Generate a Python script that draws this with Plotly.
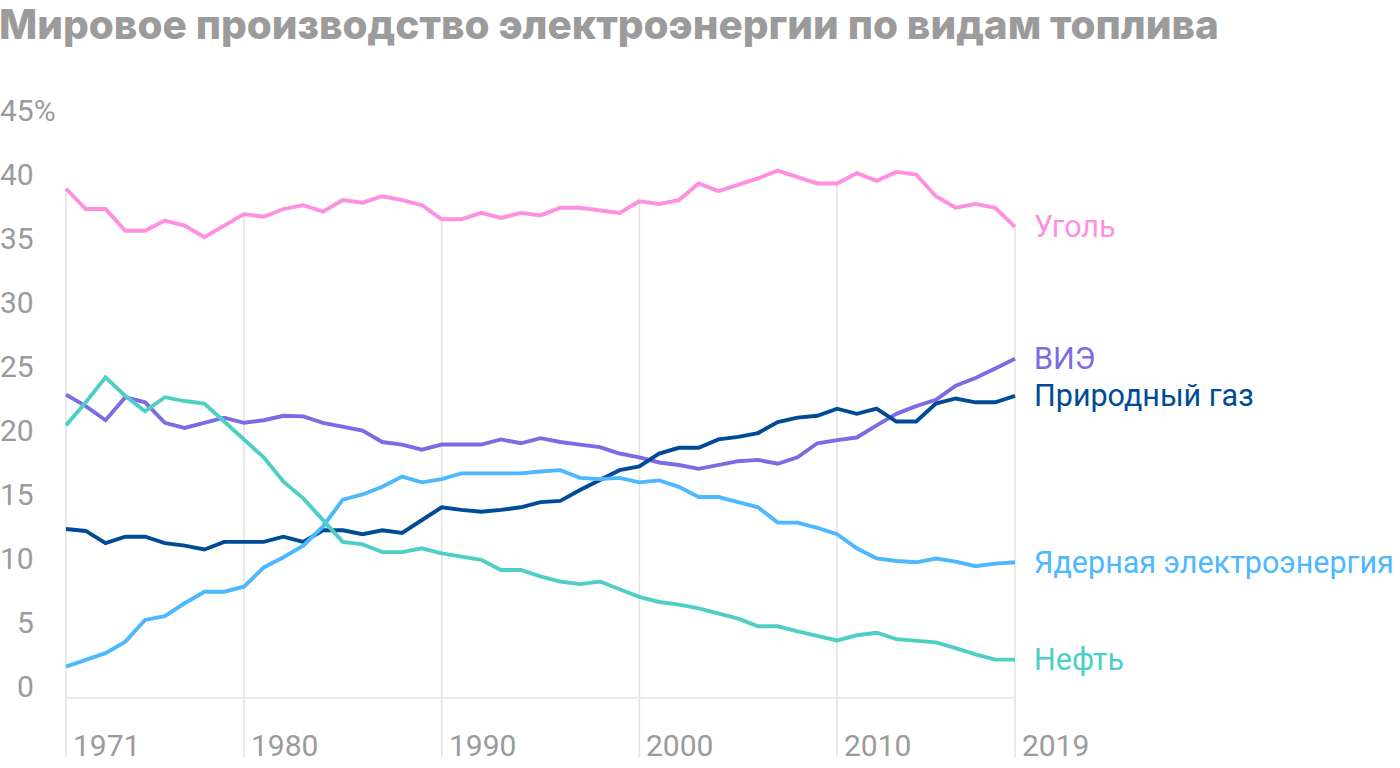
import plotly.graph_objects as go

years = list(range(1971, 2020))

coal = [39.8, 38.2, 38.2, 36.5, 36.5, 37.3, 36.9, 36.0, 36.9, 37.8,
        37.6, 38.2, 38.5, 38.0, 38.9, 38.7, 39.2, 38.9, 38.5, 37.4,
        37.4, 37.9, 37.5, 37.9, 37.7, 38.3, 38.3, 38.1, 37.9, 38.8,
        38.6, 38.9, 40.2, 39.6, 40.1, 40.6, 41.2, 40.7, 40.2, 40.2,
        41.0, 40.4, 41.1, 40.9, 39.2, 38.3, 38.6, 38.3, 36.8]

renewables = [23.7, 22.8, 21.7, 23.5, 23.1, 21.5, 21.1, 21.5, 21.9, 21.5,
              21.7, 22.05, 22.0, 21.5, 21.2, 20.9, 20.0, 19.8, 19.4, 19.8,
              19.8, 19.8, 20.2, 19.9, 20.3, 20.0, 19.8, 19.6, 19.1, 18.8,
              18.4, 18.2, 17.9, 18.2, 18.5, 18.6, 18.3, 18.8, 19.9, 20.15,
              20.35, 21.3, 22.2, 22.8, 23.3, 24.4, 25.0, 25.75, 26.5]

gas = [13.2, 13.05, 12.1, 12.6, 12.6, 12.1, 11.9, 11.6, 12.2, 12.2,
       12.2, 12.6, 12.2, 13.1, 13.1, 12.8, 13.1, 12.9, 13.9, 14.9,
       14.7, 14.55, 14.7, 14.9, 15.3, 15.4, 16.25, 17.0, 17.8, 18.1,
       19.1, 19.55, 19.55, 20.2, 20.4, 20.7, 21.55, 21.9, 22.05, 22.6,
       22.2, 22.6, 21.6, 21.6, 23.0, 23.4, 23.1, 23.1, 23.6]

nuclear = [2.45, 2.97, 3.5, 4.4, 6.1, 6.4, 7.4, 8.3, 8.3, 8.7,
           10.2, 11.0, 11.9, 13.4, 15.5, 15.9, 16.5, 17.3, 16.85, 17.1,
           17.55, 17.55, 17.55, 17.55, 17.7, 17.8, 17.2, 17.1, 17.2, 16.85,
           17.0, 16.5, 15.7, 15.7, 15.3, 14.9, 13.7, 13.7, 13.3, 12.8,
           11.7, 10.9, 10.7, 10.6, 10.9, 10.65, 10.3, 10.5, 10.6]

oil = [21.3, 23.1, 25.05, 23.6, 22.4, 23.5, 23.2, 23.0, 21.6, 20.2,
       18.8, 16.9, 15.6, 13.9, 12.2, 12.0, 11.4, 11.4, 11.7, 11.3,
       11.04, 10.8, 10.0, 10.0, 9.5, 9.1, 8.9, 9.1, 8.5, 7.9,
       7.5, 7.3, 7.0, 6.6, 6.2, 5.6, 5.6, 5.2, 4.85, 4.5,
       4.9, 5.1, 4.6, 4.5, 4.35, 3.9, 3.4, 3.0, 3.0]

series_names = ["Уголь", "ВИЭ", "Природный газ", "Ядерная электроэнергия", "Нефть"]
series_values = [coal, renewables, gas, nuclear, oil]
series_colors = ["#ff8fe0", "#7d6be6", "#004b98", "#4db8ff", "#4ecfc6"]

y_ticks = [0, 5, 10, 15, 20, 25, 30, 35, 40, 45]
x_ticks = [1971, 1980, 1990, 2000, 2010, 2019]

title_text = "Мировое производство электроэнергии по видам топлива"

FONT = "Roboto"
GRAY = "#9b9b9b"
GRID = "#e4e4e4"

W, H = 1400, 768
PX_PER_UNIT = 12.8
ZERO_PX = 698
BOTTOM_PX = 757
Y_BOTTOM = -(H - ZERO_PX) / PX_PER_UNIT
Y_TOP = ZERO_PX / PX_PER_UNIT
GRID_BOTTOM = -(BOTTOM_PX - ZERO_PX) / PX_PER_UNIT

X0_PX, X1_PX = 66.0, 1015.0
ppy = (X1_PX - X0_PX) / (years[-1] - years[0])
dom0 = (X0_PX - ppy) / W
dom1 = (X1_PX + ppy) / W

fig = go.Figure()

for name, vals, col in zip(series_names, series_values, series_colors):
    fig.add_trace(go.Scatter(x=years, y=vals, mode="lines", name=name,
                             line=dict(color=col, width=3.9, shape="linear"),
                             hoverinfo="skip"))

shapes = []
for yr in x_ticks:
    top = coal[years.index(yr)]
    shapes.append(dict(type="line", xref="x", yref="y", x0=yr, x1=yr,
                       y0=GRID_BOTTOM, y1=top, layer="below",
                       line=dict(color=GRID, width=1.6)))
shapes.append(dict(type="line", xref="x", yref="y", x0=years[0], x1=years[-1],
                   y0=0, y1=0, layer="below", line=dict(color=GRID, width=1.6)))

annotations = []
annotations.append(dict(text=title_text, xref="paper", yref="paper",
                        x=0, y=1, xanchor="left", yanchor="top", showarrow=False,
                        xshift=-3, yshift=2,
                        font=dict(family="Inter", size=40.5, color=GRAY, weight=800)))

for t in y_ticks:
    if t == y_ticks[-1]:
        annotations.append(dict(text=f"{t}%", xref="paper", yref="y", x=0, y=t,
                                xanchor="left", yanchor="bottom", showarrow=False,
                                xshift=-2, yshift=-8,
                                font=dict(family=FONT, size=30, color=GRAY)))
    else:
        annotations.append(dict(text=f"{t}", xref="paper", yref="y", x=36 / W, y=t,
                                xanchor="right", yanchor="bottom", showarrow=False,
                                yshift=-8,
                                font=dict(family=FONT, size=30, color=GRAY)))

for yr in x_ticks:
    annotations.append(dict(text=f"{yr}", xref="x", yref="y", x=yr, y=GRID_BOTTOM,
                            xanchor="left", yanchor="bottom", showarrow=False,
                            xshift=5, yshift=-8,
                            font=dict(family=FONT, size=30, color=GRAY)))

for name, vals, col in zip(series_names, series_values, series_colors):
    annotations.append(dict(text=name, xref="x", yref="y", x=years[-1], y=vals[-1],
                            xanchor="left", yanchor="middle", showarrow=False,
                            xshift=17,
                            font=dict(family=FONT, size=30.5, color=col)))

fig.update_layout(
    width=W, height=H,
    margin=dict(l=0, r=0, t=0, b=0),
    paper_bgcolor="white", plot_bgcolor="white",
    showlegend=False,
    xaxis=dict(range=[years[0] - 1, years[-1] + 1], domain=[dom0, dom1],
               visible=False, fixedrange=True),
    yaxis=dict(range=[Y_BOTTOM, Y_TOP], domain=[0, 1], visible=False, fixedrange=True),
    shapes=shapes,
    annotations=annotations,
)

fig.write_html("out.html", config={"displayModeBar": False})
